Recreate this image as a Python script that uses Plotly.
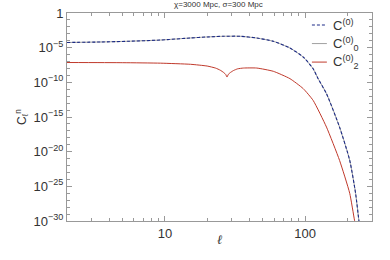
import plotly.graph_objects as go

# multipole values and spectra
ell_c0 = [2, 3.5, 5.4, 9.3, 15.2, 20, 26.2, 34.4, 45.2, 59.3, 77.9, 96.8, 114, 123.6, 142, 176, 208, 229, 241.7, 252]
c0 = [5.6e-5, 6.6e-5, 8.3e-5, 1.26e-4, 2.5e-4, 3.5e-4, 4.4e-4, 4.4e-4, 2.45e-4, 8.3e-5,
      8.9e-6, 4.5e-7, 9.3e-9, 3.5e-10, 2.3e-12, 3.5e-17, 5.6e-22, 1.0e-26, 1.3e-30, 3e-33]
c00 = c0
ell_c2 = [2, 5, 9.3, 15.2, 20, 23, 24.8, 26.3, 27.1, 27.7, 28.3, 29.2, 30.8, 33, 36.3, 45.2, 59.3,
          77.9, 96.8, 114, 142, 176, 208, 225, 236]
c2 = [7.2e-8, 6.8e-8, 5.8e-8, 4.0e-8, 2.24e-8, 1.12e-8, 5.6e-9, 2.5e-9, 1.4e-9, 5.8e-10, 1.4e-9, 2.5e-9,
      5.0e-9, 8.9e-9, 1.15e-8, 1.15e-8, 3.9e-9, 3.4e-10, 1.26e-11, 2.5e-13, 3.5e-17, 5.6e-22, 1.0e-26,
      1.3e-30, 1e-32]

labels = ["C<sup>(0)</sup>", "C<sup>(0)</sup><sub>0</sub>", "C<sup>(0)</sup><sub>2</sub>"]
colors = ["#1c2b87", "#a0a0a0", "#c0392b"]
dashes = ["3px,2px", "solid", "solid"]
ytickvals = [1, 1e-5, 1e-10, 1e-15, 1e-20, 1e-25, 1e-30]
yticktext = ["1", "10<sup>−5</sup>", "10<sup>−10</sup>", "10<sup>−15</sup>", "10<sup>−20</sup>",
             "10<sup>−25</sup>", "10<sup>−30</sup>"]

fig = go.Figure()
fig.add_trace(go.Scatter(x=ell_c0, y=c00, mode="lines", name=labels[1],
                         line=dict(color=colors[1], width=1.0, shape="spline", smoothing=0.6)))
fig.add_trace(go.Scatter(x=ell_c0, y=c0, mode="lines", name=labels[0],
                         line=dict(color=colors[0], width=1.1, dash=dashes[0], shape="spline", smoothing=0.6)))
fig.add_trace(go.Scatter(x=ell_c2, y=c2, mode="lines", name=labels[2],
                         line=dict(color=colors[2], width=1.0, shape="spline", smoothing=0.5)))

axis_common = dict(showline=True, linecolor="#999999", linewidth=1, mirror="allticks",
                   ticks="inside", tickcolor="#999999", showgrid=False, zeroline=False, automargin=False,
                   tickfont=dict(family="Liberation Sans, Arial", size=13, color="#333333"))

fig.update_xaxes(type="log", range=[0.301, 2.477], tickvals=[10, 100], ticktext=["10", "100"], ticklen=5,
                 minor=dict(tickvals=[2, 3, 4, 5, 6, 7, 8, 9, 20, 30, 40, 50, 60, 70, 80, 90, 200, 300],
                            ticklen=3, tickcolor="#999999", ticks="inside"),
                 **axis_common)
fig.update_yaxes(type="log", range=[-30, 0], tickvals=ytickvals, ticktext=yticktext, ticklen=5,
                 minor=dict(dtick=1, ticklen=3, tickcolor="#999999", ticks="inside"),
                 title=dict(text="C<sub>ℓ</sub><sup>n</sup>", font=dict(family="Liberation Sans, Arial", size=12, color="#333333"), standoff=4),
                 **axis_common)

# x-axis label placed as an annotation just under the tick labels
fig.add_annotation(xref="paper", yref="paper", x=0.5, y=-0.09, xanchor="center", yanchor="middle",
                   text="<i>ℓ</i>", showarrow=False,
                   font=dict(family="DejaVu Serif", size=13, color="#333333"))

# hand-drawn legend (short line samples like the reference)
legend_y = [0.942, 0.853, 0.764]
for i in range(3):
    fig.add_shape(type="line", xref="paper", yref="paper", x0=0.803, x1=0.852, y0=legend_y[i], y1=legend_y[i],
                  line=dict(color=colors[i], width=1.1 if i == 0 else 1.0, dash=dashes[i]))
    fig.add_annotation(xref="paper", yref="paper", x=0.866, y=legend_y[i], xanchor="left", yanchor="middle",
                       text=labels[i], showarrow=False,
                       font=dict(family="Liberation Sans, Arial", size=13, color="#333333"))

fig.update_layout(
    width=390, height=260,
    margin=dict(l=67, r=18, t=13, b=39),
    paper_bgcolor="white", plot_bgcolor="white",
    title=dict(text="χ=3000 Mpc, σ=300 Mpc", x=0.56, xanchor="center", y=0.982, yanchor="middle",
               font=dict(family="Liberation Sans, Arial", size=8, color="#333333")),
    showlegend=False,
)

fig.write_html("out.html", config={"displayModeBar": False},
               post_script="document.body.style.margin='0';")
